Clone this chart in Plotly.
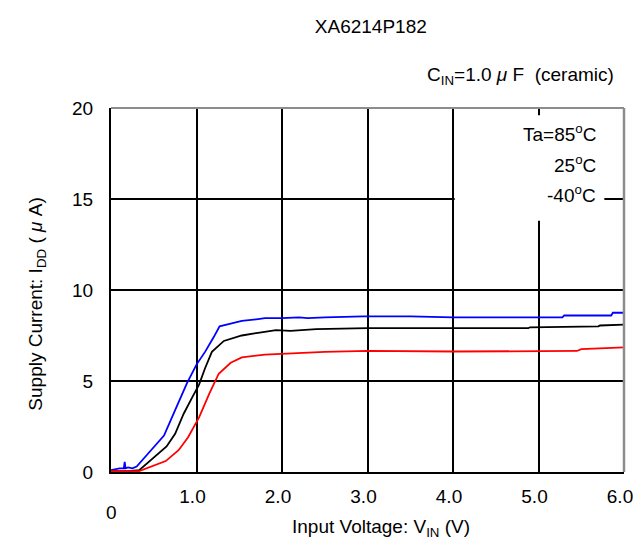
import plotly.graph_objects as go

# ---- data ----
V_85 = [0.0, 0.05, 0.10, 0.15, 0.16, 0.17, 0.20, 0.25, 0.30, 0.45, 0.62, 0.75, 0.89, 1.00, 1.10, 1.20, 1.27,
        1.40, 1.53, 1.72, 1.80, 2.00, 2.20, 2.30, 2.50, 2.95, 3.50, 4.00, 4.50, 5.28, 5.30, 5.85, 5.87, 6.00]
I_85 = [0.10, 0.15, 0.20, 0.20, 0.55, 0.20, 0.25, 0.20, 0.30, 1.10, 2.00, 3.40, 4.90, 5.90, 6.60, 7.40, 8.00,
        8.15, 8.30, 8.40, 8.45, 8.45, 8.50, 8.45, 8.50, 8.55, 8.55, 8.50, 8.50, 8.50, 8.60, 8.60, 8.75, 8.75]

V_25 = [0.0, 0.20, 0.33, 0.48, 0.65, 0.75, 0.85, 0.95, 1.03, 1.10, 1.18, 1.32, 1.53, 1.72, 1.93, 2.10, 2.40,
        3.00, 4.00, 4.88, 4.90, 5.70, 5.72, 6.00]
I_25 = [0.05, 0.05, 0.10, 0.70, 1.40, 2.10, 3.20, 4.10, 4.80, 5.70, 6.60, 7.20, 7.50, 7.65, 7.80, 7.75, 7.85,
        7.90, 7.90, 7.90, 7.95, 8.00, 8.05, 8.10]

V_M40 = [0.0, 0.20, 0.33, 0.64, 0.79, 0.90, 1.03, 1.15, 1.26, 1.40, 1.53, 1.80, 2.00, 2.50, 3.00, 4.00,
         5.45, 5.50, 6.00]
I_M40 = [0.05, 0.05, 0.05, 0.60, 1.20, 1.90, 3.00, 4.30, 5.40, 6.00, 6.30, 6.45, 6.50, 6.60, 6.65, 6.62,
         6.65, 6.75, 6.85]

SERIES = [("Ta=85°C", V_85, I_85, "#0000ff"),
          ("25°C", V_25, I_25, "#000000"),
          ("-40°C", V_M40, I_M40, "#ff0000")]

X_TICKS = [1, 2, 3, 4, 5, 6]
X_TICK_TEXT = ["1.0", "2.0", "3.0", "4.0", "5.0", "6.0"]
Y_TICKS = [0, 5, 10, 15, 20]
Y_TICK_TEXT = ["0", "5", "10", "15", "20"]

LEGEND_TEXT = ["Ta=85<sup>o</sup>C", "25<sup>o</sup>C", "-40<sup>o</sup>C"]
LEGEND_Y = [18.6, 16.95, 15.3]

FONT = "Liberation Sans, Arial, sans-serif"
FS = 19

fig = go.Figure()
for name, xs, ys, col in SERIES:
    fig.add_trace(go.Scatter(x=xs, y=ys, mode="lines", name=name,
                             line=dict(color=col, width=1.8),
                             showlegend=False))

fig.update_layout(
    width=641, height=543,
    margin=dict(l=103, r=25, t=100, b=79),
    paper_bgcolor="white", plot_bgcolor="white",
    font=dict(family=FONT, size=FS, color="black"),
    showlegend=False,
    title=dict(text="XA6214P182", x=0.566, xanchor="center", y=0.966, yanchor="middle",
               font=dict(size=FS, family=FONT)),
)

fig.update_xaxes(range=[0, 6], tickvals=X_TICKS, ticktext=X_TICK_TEXT,
                 showgrid=True, gridcolor="black", gridwidth=1.8,
                 showline=True, linecolor="black", linewidth=2,
                 ticks="", zeroline=False, ticklabelshift=-4, ticklabelstandoff=6,
                 tickfont=dict(size=FS))
fig.update_yaxes(range=[0, 20], tickvals=Y_TICKS, ticktext=Y_TICK_TEXT,
                 showgrid=True, gridcolor="black", gridwidth=1.8,
                 showline=True, linecolor="black", linewidth=2,
                 ticks="", zeroline=False, ticklabelstandoff=12,
                 tickfont=dict(size=FS))

# axis titles
fig.add_annotation(x=0.526, y=-0.155, xref="paper", yref="paper",
                   text="Input Voltage: V<sub>IN</sub> (V)", showarrow=False,
                   xanchor="center", yanchor="middle", font=dict(size=FS))
fig.add_annotation(x=-0.146, y=0.46, xref="paper", yref="paper",
                   text="Supply Current: I<sub>DD</sub> ( <i>μ</i> A)", showarrow=False,
                   textangle=-90, xanchor="center", yanchor="middle", font=dict(size=FS))

# top / right frame in gray
fig.add_shape(type="line", xref="paper", yref="paper", x0=0, x1=1, y0=1, y1=1,
              line=dict(color="#8c8c8c", width=2))
fig.add_shape(type="line", xref="paper", yref="paper", x0=1, x1=1, y0=0, y1=1,
              line=dict(color="#8c8c8c", width=2.5))

# white box behind the temperature labels
fig.add_shape(type="rect", xref="x", yref="y", x0=4.02, x1=5.77, y0=13.8, y1=19.6,
              fillcolor="white", line=dict(width=0), layer="above")

for txt, yv in zip(LEGEND_TEXT, LEGEND_Y):
    fig.add_annotation(x=5.69, y=yv, xref="x", yref="y", text=txt, showarrow=False,
                       xanchor="right", yanchor="middle", font=dict(size=FS))

# x-axis origin label and the capacitor note
fig.add_annotation(x=0, y=0, xref="x", yref="y", text="0", showarrow=False,
                   yshift=-40, font=dict(size=FS))
fig.add_annotation(x=1, y=1, xref="paper", yref="paper", text="C<sub>IN</sub>=1.0 <i>μ</i> F  (ceramic)",
                   showarrow=False, xanchor="right", yanchor="middle", xshift=-8, yshift=32,
                   font=dict(size=FS))

fig.write_html("out.html")
